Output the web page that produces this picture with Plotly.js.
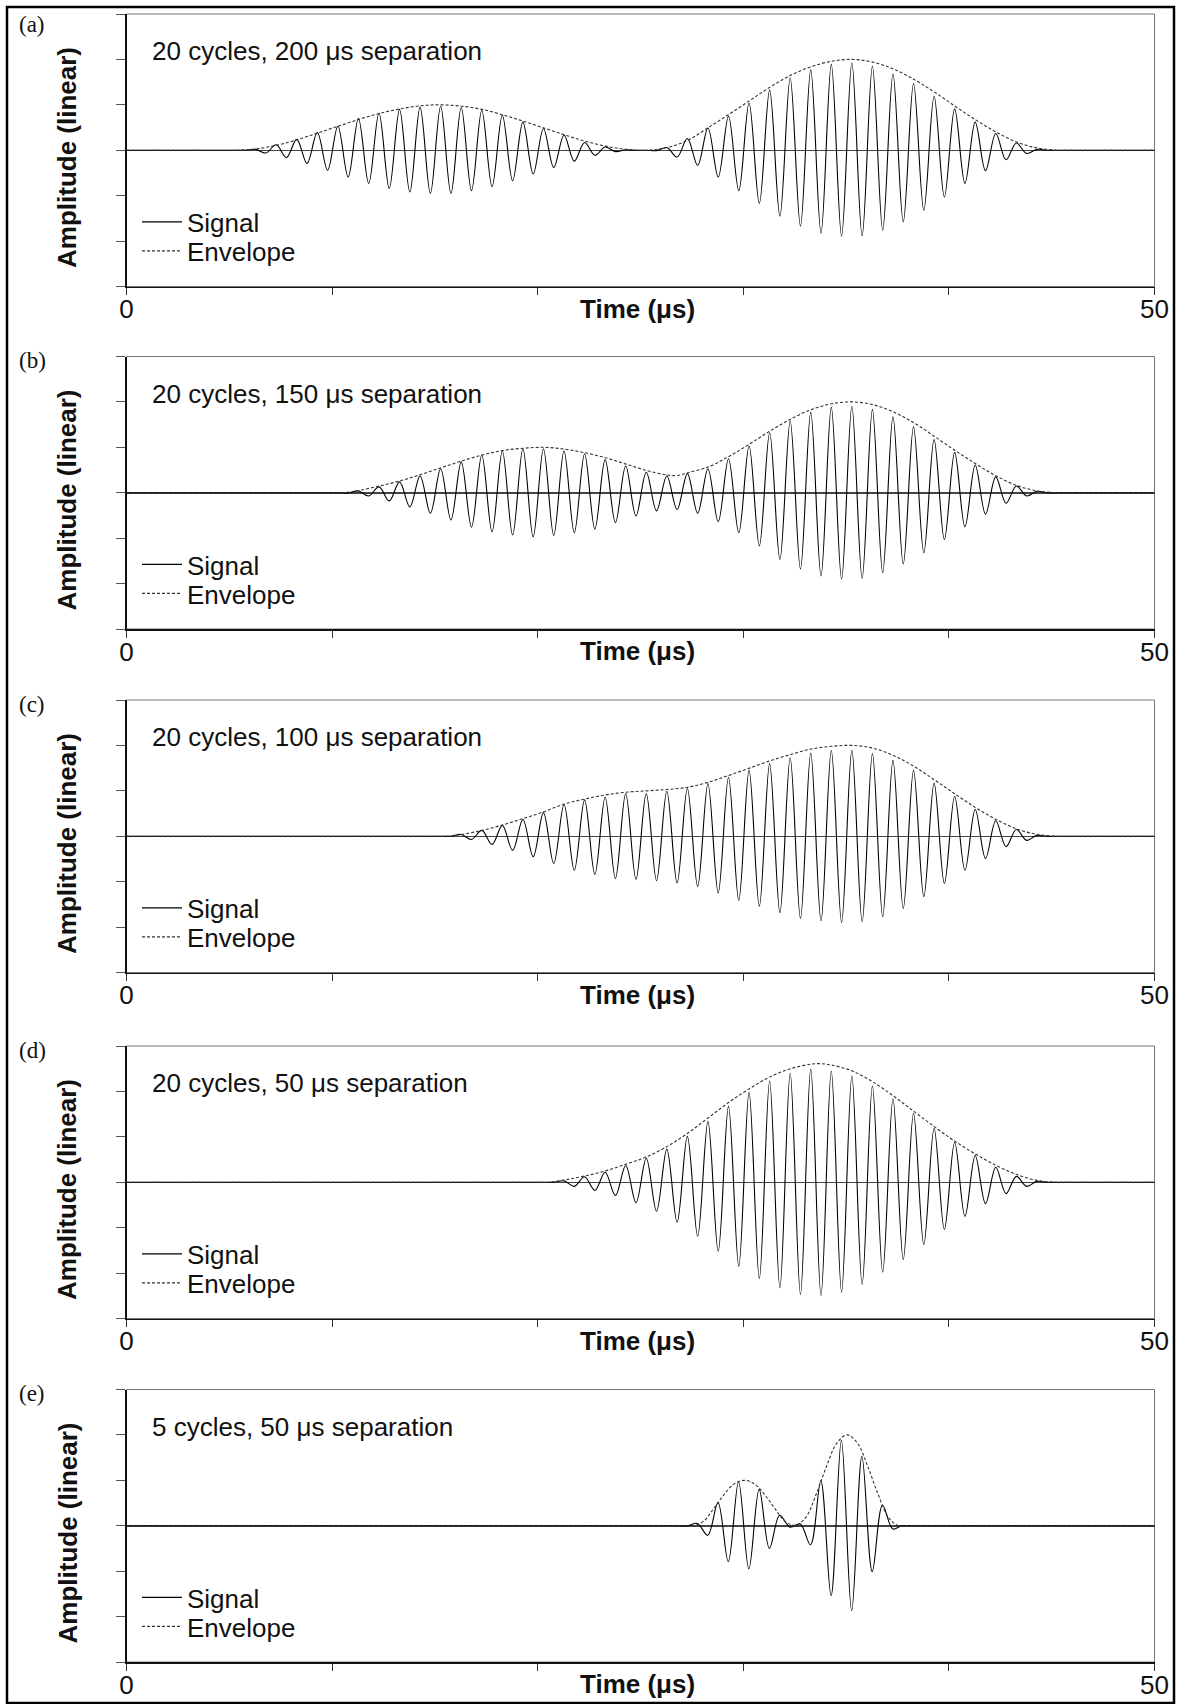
<!DOCTYPE html>
<html><head><meta charset="utf-8">
<script src="https://cdn.plot.ly/plotly-3.0.1.min.js"></script>
<style>html,body{margin:0;padding:0;background:#fff;}#chart{width:1177px;height:1704px;}</style>
</head><body><div id="chart"></div>
<script>
// ---------------- DATA ----------------
// time in microseconds, amplitude in linear units (axis ticks every 1 unit)
const panelLetters = ['(a)','(b)','(c)','(d)','(e)'];
const panelNotes = ['20 cycles, 200 \u03bcs separation','20 cycles, 150 \u03bcs separation','20 cycles, 100 \u03bcs separation','20 cycles, 50 \u03bcs separation','5 cycles, 50 \u03bcs separation'];
const xTickVals = [0,10,20,30,40,50];
const xTickText = ['0','','','','','50'];
const yTickVals = [-3,-2,-1,0,1,2,3];

// (a) signal extrema
const aSigT = [0,5.28,5.78,6.28,6.78,7.28,7.78,8.28,8.78,9.28,9.78,10.28,10.78,11.28,11.78,12.28,12.78,13.28,13.78,14.28,14.78,15.28,15.78,16.28,16.78,17.28,17.78,18.28,18.78,19.28,19.78,20.28,20.78,21.28,21.78,22.28,22.78,23.28,23.78,24.28,24.78,25.28,25.78,26.28,26.78,27.28,27.78,28.28,28.78,29.28,29.78,30.28,30.78,31.28,31.78,32.28,32.78,33.28,33.78,34.28,34.78,35.28,35.78,36.28,36.78,37.28,37.78,38.28,38.78,39.28,39.78,40.28,40.78,41.28,41.78,42.28,42.78,43.28,43.78,44.28,44.78,45.28,50];
const aSigY = [0,0,0,0.02,-0.06,0.12,-0.16,0.24,-0.29,0.39,-0.44,0.53,-0.59,0.70,-0.73,0.82,-0.84,0.90,-0.92,0.95,-0.95,0.97,-0.95,0.94,-0.89,0.88,-0.80,0.77,-0.67,0.62,-0.52,0.48,-0.38,0.33,-0.24,0.17,-0.11,0.07,-0.03,0.01,0,0,-0.01,0.06,-0.15,0.26,-0.33,0.49,-0.59,0.75,-0.89,1.04,-1.17,1.33,-1.45,1.59,-1.67,1.77,-1.82,1.89,-1.89,1.92,-1.88,1.85,-1.76,1.68,-1.58,1.47,-1.32,1.19,-1.03,0.91,-0.73,0.62,-0.45,0.37,-0.21,0.16,-0.07,0.02,0,0,0];
const aEnvT = [0,4.8,5.3,6.3,7.3,8.3,9.3,10.3,11.3,12.3,13.3,14.3,15.3,16.3,17.3,18.3,19.3,20.3,21.3,22.3,23.3,24.3,25.3,26.3,27.3,28.3,29.3,30.3,31.3,32.3,33.3,34.3,35.3,36.3,37.3,38.3,39.3,40.3,41.3,42.3,43.3,44.3,45.3,45.8,50];
const aEnvY = [0,0,0,0.03,0.11,0.23,0.38,0.53,0.68,0.81,0.91,0.98,1.0,0.97,0.90,0.78,0.64,0.49,0.34,0.20,0.09,0.02,0,0.06,0.22,0.50,0.79,1.09,1.39,1.65,1.84,1.96,2.0,1.94,1.79,1.56,1.28,0.97,0.67,0.40,0.18,0.05,0,0,0];

// (b)
const bSigT = [0,9.78,10.28,10.78,11.28,11.78,12.28,12.78,13.28,13.78,14.28,14.78,15.28,15.78,16.28,16.78,17.28,17.78,18.28,18.78,19.28,19.78,20.28,20.78,21.28,21.78,22.28,22.78,23.28,23.78,24.28,24.78,25.28,25.78,26.28,26.78,27.28,27.78,28.28,28.78,29.28,29.78,30.28,30.78,31.28,31.78,32.28,32.78,33.28,33.78,34.28,34.78,35.28,35.78,36.28,36.78,37.28,37.78,38.28,38.78,39.28,39.78,40.28,40.78,41.28,41.78,42.28,42.78,43.28,43.78,44.28,44.78,45.28,50];
const bSigY = [0,0,0,-0.01,0.04,-0.07,0.13,-0.18,0.24,-0.31,0.37,-0.45,0.53,-0.60,0.68,-0.76,0.83,-0.86,0.92,-0.93,0.97,-0.97,0.97,-0.94,0.92,-0.88,0.86,-0.80,0.73,-0.66,0.59,-0.51,0.45,-0.40,0.37,-0.37,0.42,-0.45,0.53,-0.64,0.75,-0.88,1.03,-1.17,1.32,-1.47,1.58,-1.68,1.77,-1.83,1.88,-1.90,1.90,-1.88,1.83,-1.76,1.67,-1.57,1.45,-1.32,1.17,-1.03,0.89,-0.75,0.61,-0.47,0.35,-0.23,0.15,-0.07,0.03,0,0,0];
const bEnvT = [0,10.0,10.5,11.3,12.3,13.3,14.3,15.3,16.3,17.3,18.3,19.3,20.3,21.3,22.3,23.3,24.3,25.3,26.3,26.8,27.3,28.3,29.3,30.3,31.3,32.3,33.3,34.3,35.3,36.3,37.3,38.3,39.3,40.3,41.3,42.3,43.3,44.3,45.3,45.8,50];
const bEnvY = [0,0,0,0.05,0.15,0.26,0.40,0.55,0.70,0.83,0.93,0.98,1.0,0.96,0.88,0.77,0.63,0.49,0.39,0.38,0.44,0.57,0.80,1.07,1.36,1.62,1.83,1.96,2.0,1.94,1.78,1.54,1.24,0.93,0.64,0.37,0.16,0.04,0,0,0];

// (c)
const cSigT = [0,15.28,15.78,16.28,16.78,17.28,17.78,18.28,18.78,19.28,19.78,20.28,20.78,21.28,21.78,22.28,22.78,23.28,23.78,24.28,24.78,25.28,25.78,26.28,26.78,27.28,27.78,28.28,28.78,29.28,29.78,30.28,30.78,31.28,31.78,32.28,32.78,33.28,33.78,34.28,34.78,35.28,35.78,36.28,36.78,37.28,37.78,38.28,38.78,39.28,39.78,40.28,40.78,41.28,41.78,42.28,42.78,43.28,43.78,44.28,44.78,45.28,50];
const cSigY = [0,0,0,0.04,-0.07,0.13,-0.18,0.24,-0.31,0.37,-0.45,0.52,-0.60,0.70,-0.75,0.80,-0.84,0.86,-0.93,0.94,-0.95,0.94,-0.98,0.99,-1.03,1.05,-1.11,1.16,-1.25,1.30,-1.41,1.45,-1.54,1.60,-1.68,1.73,-1.81,1.83,-1.86,1.89,-1.90,1.89,-1.88,1.82,-1.77,1.67,-1.59,1.45,-1.33,1.17,-1.04,0.88,-0.75,0.59,-0.49,0.34,-0.23,0.15,-0.09,0.02,0,0,0];
const cEnvT = [0,15.0,15.5,16.3,17.3,18.3,19.3,20.3,21.3,22.3,23.3,24.3,25.3,26.3,27.3,28.3,29.3,30.3,31.3,32.3,33.3,34.3,35.3,36.3,37.3,38.3,39.3,40.3,41.3,42.3,43.3,44.3,45.3,45.8,50];
const cEnvY = [0,0,0,0.04,0.13,0.25,0.39,0.54,0.71,0.82,0.91,0.97,1.0,1.03,1.08,1.19,1.34,1.50,1.66,1.80,1.92,1.98,2.0,1.94,1.78,1.54,1.24,0.93,0.63,0.37,0.16,0.04,0,0,0];

// (d)
const dSigT = [0,20.28,20.78,21.28,21.78,22.28,22.78,23.28,23.78,24.28,24.78,25.28,25.78,26.28,26.78,27.28,27.78,28.28,28.78,29.28,29.78,30.28,30.78,31.28,31.78,32.28,32.78,33.28,33.78,34.28,34.78,35.28,35.78,36.28,36.78,37.28,37.78,38.28,38.78,39.28,39.78,40.28,40.78,41.28,41.78,42.28,42.78,43.28,43.78,44.28,44.78,45.28,50];
const dSigY = [0,0,0,0.03,-0.09,0.12,-0.18,0.22,-0.29,0.37,-0.45,0.53,-0.64,0.73,-0.88,1.01,-1.19,1.34,-1.52,1.67,-1.85,1.98,-2.12,2.23,-2.32,2.40,-2.47,2.49,-2.49,2.45,-2.42,2.34,-2.25,2.12,-1.98,1.84,-1.70,1.52,-1.37,1.19,-1.04,0.88,-0.75,0.59,-0.47,0.33,-0.25,0.13,-0.09,0.02,0,0,0];
const dEnvT = [0,20.0,20.5,21.3,22.3,23.3,24.3,25.3,26.3,27.3,28.3,29.3,30.3,31.3,32.3,33.3,33.8,34.3,35.3,36.3,37.3,38.3,39.3,40.3,41.3,42.3,43.3,44.3,45.3,45.8,50];
const dEnvY = [0,0,0,0.05,0.14,0.25,0.40,0.56,0.79,1.08,1.42,1.76,2.06,2.32,2.50,2.60,2.61,2.58,2.45,2.21,1.90,1.56,1.22,0.90,0.62,0.37,0.17,0.04,0,0,0];

// (e)
const eSigT = [0,26.8,27.3,27.77,28.27,28.77,29.27,29.77,30.27,30.77,31.27,31.77,32.27,32.77,33.27,33.77,34.27,34.77,35.27,35.77,36.27,36.77,37.27,37.7,38.2,50];
const eSigY = [0,0,0,0.05,-0.21,0.51,-0.79,0.97,-0.95,0.80,-0.50,0.23,-0.03,0.04,-0.42,0.99,-1.54,1.88,-1.87,1.53,-1.01,0.45,-0.07,0,0,0];
const eEnvT = [0,27.05,27.55,28.05,28.55,29.05,29.55,30.05,30.55,31.05,31.55,32.05,32.55,33.05,33.55,34.05,34.55,35.05,35.55,36.05,36.55,37.05,37.55,38.05,50];
const eEnvY = [0,0,0,0.09,0.37,0.68,0.92,1.0,0.92,0.68,0.37,0.09,0.01,0.19,0.70,1.31,1.82,2.0,1.82,1.31,0.70,0.19,0,0,0];

// ---------------- LAYOUT (pixel geometry of the figure) ----------------
const W = 1177, H = 1704;
const XL = 126.5, XR = 1154.5;
const tops = [14, 356.5, 700, 1046, 1389.5];
const PH = 272.5;
const FONT = 'Liberation Sans, Arial, Helvetica, sans-serif';
const SERIF = 'Liberation Serif, Times New Roman, serif';

const sigT = [aSigT,bSigT,cSigT,dSigT,eSigT];
const sigY = [aSigY,bSigY,cSigY,dSigY,eSigY];
const envT = [aEnvT,bEnvT,cEnvT,dEnvT,eEnvT];
const envY = [aEnvY,bEnvY,cEnvY,dEnvY,eEnvY];

const px = v => v / W;
const py = v => 1 - v / H;

const traces = [];
const layout = {
  width: W, height: H,
  margin: {l:0, r:0, t:0, b:0},
  paper_bgcolor: '#fff', plot_bgcolor: '#fff',
  showlegend: true,
  font: {family: FONT, color: '#111', size: 26},
  shapes: [], annotations: []
};

for (let i = 0; i < 5; i++) {
  const s = i === 0 ? '' : String(i + 1);
  const T = tops[i], B = T + PH;
  const legS = 2*i + 1, legE = 2*i + 2;
  const legSName = legS === 1 ? 'legend' : 'legend' + legS;
  const legEName = 'legend' + legE;

  traces.push({
    x: sigT[i], y: sigY[i], xaxis: 'x' + s, yaxis: 'y' + s,
    type: 'scatter', mode: 'lines', name: 'Signal', legend: legSName,
    line: {color: '#000', width: 1.1, shape: 'spline', smoothing: 1},
    hoverinfo: 'skip'
  });
  traces.push({
    x: envT[i], y: envY[i], xaxis: 'x' + s, yaxis: 'y' + s,
    type: 'scatter', mode: 'lines', name: 'Envelope', legend: legEName,
    line: {color: '#333', width: 1.1, dash: '3px,2px', shape: 'spline', smoothing: 1},
    hoverinfo: 'skip'
  });

  layout['xaxis' + s] = {
    domain: [px(XL), px(XR)], range: [0, 50], anchor: 'y' + s,
    tickmode: 'array', tickvals: xTickVals, ticktext: xTickText,
    ticks: 'outside', ticklen: 7, tickwidth: 1, tickcolor: '#333',
    ticklabelstandoff: -8,
    tickfont: {family: FONT, size: 26, color: '#111'},
    showline: true, linecolor: '#111', linewidth: 1.5,
    showgrid: false, zeroline: false, fixedrange: true
  };
  layout['yaxis' + s] = {
    domain: [py(B), py(T)], range: [-3, 3], anchor: 'x' + s,
    tickmode: 'array', tickvals: yTickVals, showticklabels: false,
    ticks: 'outside', ticklen: 9, tickwidth: 1, tickcolor: '#555',
    showline: true, linecolor: '#111', linewidth: 1.5,
    showgrid: false, zeroline: true, zerolinecolor: '#444', zerolinewidth: 1.5,
    fixedrange: true
  };

  layout.shapes.push({
    type: 'rect', xref: 'x' + s + ' domain', yref: 'y' + s + ' domain',
    x0: 0, x1: 1, y0: 0, y1: 1, line: {color: '#777', width: 1}, layer: 'below'
  });

  const legBase = {
    xanchor: 'left', yanchor: 'middle', bgcolor: 'rgba(0,0,0,0)', borderwidth: 0,
    itemwidth: 40, font: {family: FONT, size: 26, color: '#111'}
  };
  layout[legSName] = Object.assign({x: px(137), y: py(T + 208)}, legBase);
  layout[legEName] = Object.assign({x: px(137), y: py(T + 237)}, legBase);

  layout.annotations.push({
    text: panelLetters[i], xref: 'paper', yref: 'paper',
    x: px(32), y: py(i === 0 ? 25 : T + 4), xanchor: 'center', yanchor: 'middle',
    showarrow: false, font: {family: SERIF, size: 23, color: '#111'}
  });
  layout.annotations.push({
    text: panelNotes[i], xref: 'paper', yref: 'paper',
    x: px(150), y: py(T + 37), xanchor: 'left', yanchor: 'middle',
    showarrow: false, font: {family: FONT, size: 26, color: '#111'}
  });
  layout.annotations.push({
    text: '<b>Amplitude (linear)</b>', xref: 'paper', yref: 'paper',
    x: px(67), y: py(T + 144), xanchor: 'center', yanchor: 'middle', textangle: -90,
    showarrow: false, font: {family: FONT, size: 26, color: '#111'}
  });
  layout.annotations.push({
    text: '<b>Time (\u03bcs)</b>', xref: 'paper', yref: 'paper',
    x: px(638), y: py(B + 22), xanchor: 'center', yanchor: 'middle',
    showarrow: false, font: {family: FONT, size: 26, color: '#111'}
  });
}

// outer figure border
layout.shapes.push({
  type: 'rect', xref: 'paper', yref: 'paper',
  x0: px(7), x1: px(1174), y0: py(1703), y1: py(7),
  line: {color: '#000', width: 2.5}, layer: 'above'
});

Plotly.newPlot('chart', traces, layout, {displayModeBar: false, staticPlot: true});
</script></body></html>
